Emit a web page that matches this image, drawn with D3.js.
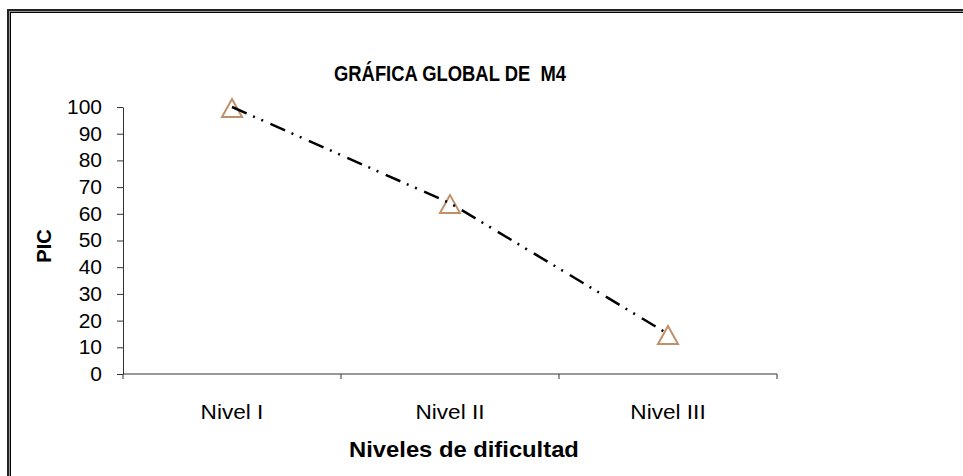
<!DOCTYPE html>
<html>
<head>
<meta charset="utf-8">
<script src="https://cdn.jsdelivr.net/npm/d3@7"></script>
<style>
  body { margin: 0; background: #fff; }
  svg { display: block; font-family: Arial, "Liberation Sans", sans-serif; }
</style>
</head>
<body>
<div id="chart"></div>
<script>
// data
const categories = ["Nivel I", "Nivel II", "Nivel III"];
const picValues = [100, 64, 15];
const yTicks = [0, 10, 20, 30, 40, 50, 60, 70, 80, 90, 100];
const titleText = "GRÁFICA GLOBAL DE  M4";
const xTitle = "Niveles de dificultad";
const yTitle = "PIC";

const W = 963, H = 476;
const plot = { left: 123, right: 777, top: 107, bottom: 374 };

// the original text is a bit wider (or narrower) than Arial, fix widths here
function stretch(sel, k) {
  sel.each(function () {
    const w = this.getComputedTextLength();
    d3.select(this).attr("textLength", w * k).attr("lengthAdjust", "spacingAndGlyphs");
  });
}

const svg = d3.select("#chart").append("svg")
  .attr("width", W)
  .attr("height", H);

// frame (runs off the right / bottom edge like the original capture)
svg.append("rect").attr("x", 8).attr("y", 10).attr("width", 1000).attr("height", 500)
  .attr("fill", "none").attr("stroke", "#222").attr("stroke-width", 2);
svg.append("rect").attr("x", 9.5).attr("y", 11.5).attr("width", 1000).attr("height", 500)
  .attr("fill", "none").attr("stroke", "#999").attr("stroke-width", 1);
svg.append("rect").attr("x", 10.5).attr("y", 12.5).attr("width", 1000).attr("height", 500)
  .attr("fill", "none").attr("stroke", "#000").attr("stroke-width", 1);

// scales
const x = d3.scaleBand().domain(categories).range([plot.left, plot.right]);
const y = d3.scaleLinear().domain([0, 100]).range([plot.bottom, plot.top]);

// y axis
const yAxis = svg.append("g")
  .attr("transform", `translate(${plot.left},0)`)
  .call(d3.axisLeft(y).tickValues(yTicks).tickSize(6).tickPadding(15).tickSizeOuter(0));
yAxis.select(".domain").attr("stroke", "#333");
yAxis.selectAll(".tick line").attr("stroke", "#333");
yAxis.selectAll("text").attr("font-size", 20).attr("fill", "#000");
stretch(yAxis.selectAll("text"), 1.05);

// x axis - ticks sit on the category boundaries
const xAxis = svg.append("g")
  .attr("transform", `translate(0,${plot.bottom})`);
xAxis.append("line")
  .attr("x1", plot.left).attr("x2", plot.right)
  .attr("stroke", "#333");
const bounds = categories.map(c => x(c)).concat([x(categories[categories.length - 1]) + x.bandwidth()]);
xAxis.selectAll("line.tk").data(bounds).enter().append("line")
  .attr("class", "tk")
  .attr("x1", d => d).attr("x2", d => d)
  .attr("y1", 0).attr("y2", 5)
  .attr("stroke", "#333");
const xLabels = xAxis.selectAll("text").data(categories).enter().append("text")
  .attr("x", d => x(d) + x.bandwidth() / 2)
  .attr("y", 45)
  .attr("text-anchor", "middle")
  .attr("font-size", 20)
  .text(d => d);
stretch(xLabels, 1.13);

// titles (keep the double space of the original title)
svg.append("text")
  .attr("x", (plot.left + plot.right) / 2).attr("y", 81)
  .attr("text-anchor", "middle")
  .attr("font-size", 22).attr("font-weight", "bold")
  .style("white-space", "pre")
  .attr("textLength", 232).attr("lengthAdjust", "spacingAndGlyphs")
  .text(titleText);

const xt = svg.append("text")
  .attr("x", 464).attr("y", 457)
  .attr("text-anchor", "middle")
  .attr("font-size", 22).attr("font-weight", "bold")
  .text(xTitle);
stretch(xt, 1.08);

svg.append("text")
  .attr("transform", `translate(51,246) rotate(-90)`)
  .attr("text-anchor", "middle")
  .attr("font-size", 20).attr("font-weight", "bold")
  .text(yTitle);

// series
const pts = categories.map((c, i) => ({ cx: x(c) + x.bandwidth() / 2, cy: y(picValues[i]) }));

// triangle markers (hollow, the line shows through)
svg.selectAll("path.mk").data(pts).enter().append("path")
  .attr("class", "mk")
  .attr("d", d => `M${d.cx},${d.cy - 8}L${d.cx + 10},${d.cy + 10}L${d.cx - 10},${d.cy + 10}Z`)
  .attr("fill", "none")
  .attr("stroke", "#c0906a")
  .attr("stroke-width", 2);

const line = d3.line().x(d => d.cx).y(d => d.cy);
svg.append("path")
  .datum(pts)
  .attr("d", line)
  .attr("fill", "none")
  .attr("stroke", "#000")
  .attr("stroke-width", 2.5)
  .attr("stroke-dasharray", "16,7,2,7,2,8");
</script>
</body>
</html>
